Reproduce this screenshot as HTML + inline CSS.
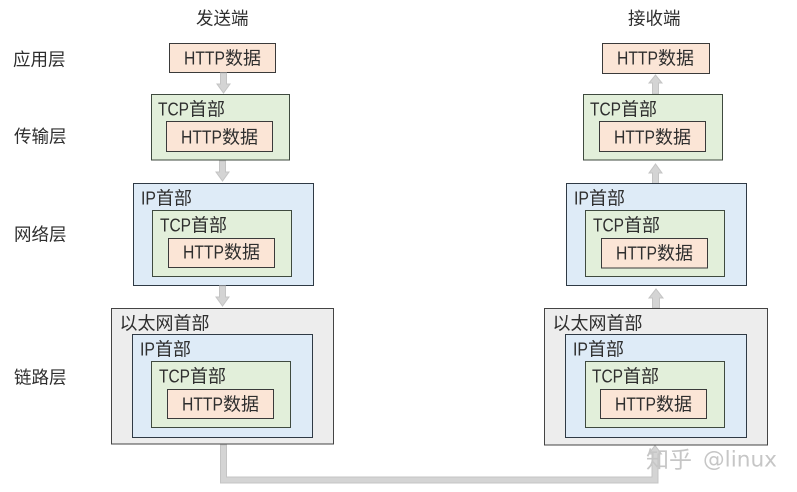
<!DOCTYPE html>
<html><head><meta charset="utf-8">
<style>
html,body{margin:0;padding:0;background:#fff;}
svg{display:block;}
text{font-family:"Liberation Sans","WenQuanYi Zen Hei","Noto Sans CJK SC",sans-serif;font-size:18px;fill:#2e2e2e;transform:translateY(.7px);}
.l{font-size:17.500px;}
.h{fill:#fbe5d6;stroke:#3a3a3a;stroke-width:1;}
.t{fill:#e2efda;stroke:#3f4a3f;stroke-width:1;}
.i{fill:#deebf7;stroke:#2f3a45;stroke-width:1;}
.e{fill:#ededed;stroke:#444;stroke-width:1;}
.a{fill:#d4d4d4;stroke:#c4c4c4;stroke-width:1;}
text.w{fill:#c6c6c6;font-size:23px;}
text.x{fill:#c6c6c6;font-family:"DejaVu Sans",sans-serif;font-size:21px;}
</style></head><body>
<svg width="797" height="492" viewBox="0 0 797 492" xmlns="http://www.w3.org/2000/svg">
<text class="l" x="196" y="24">发送端</text>
<text class="l" x="628" y="24">接收端</text>
<text class="l" x="13" y="65">应用层</text>
<text class="l" x="14" y="142">传输层</text>
<text class="l" x="14" y="240">网络层</text>
<text class="l" x="14" y="383">链路层</text>

<!-- left -->
<rect class="h" x="169.500" y="43.500" width="106" height="29"/>
<text x="184" y="64" textLength="41" lengthAdjust="spacingAndGlyphs">HTTP</text><text x="225" y="64">数据</text>
<path class="a" d="M220.500 73H226.500V84H230L223.500 93L217 84H220.500Z"/>

<rect class="t" x="151.500" y="94.500" width="138" height="65.500"/>
<text x="158" y="115" textLength="31" lengthAdjust="spacingAndGlyphs">TCP</text><text x="189" y="115">首部</text>
<rect class="h" x="166.500" y="121.500" width="106" height="30"/>
<text x="181" y="143" textLength="41" lengthAdjust="spacingAndGlyphs">HTTP</text><text x="222" y="143">数据</text>
<path class="a" d="M219.500 161H225.500V172H229L222.500 181L216 172H219.500Z"/>

<rect class="i" x="133.500" y="183.500" width="180" height="102"/>
<text x="141" y="204" textLength="15" lengthAdjust="spacingAndGlyphs">IP</text><text x="156" y="204">首部</text>
<rect class="t" x="152.500" y="210.500" width="139" height="66"/>
<text x="160" y="231" textLength="31" lengthAdjust="spacingAndGlyphs">TCP</text><text x="191" y="231">首部</text>
<rect class="h" x="168.500" y="238.500" width="106" height="29"/>
<text x="183" y="258" textLength="41" lengthAdjust="spacingAndGlyphs">HTTP</text><text x="224" y="258">数据</text>
<path class="a" d="M219.500 286H225.500V297H229L222.500 306L216 297H219.500Z"/>

<rect class="e" x="111.500" y="308.500" width="222" height="135.500"/>
<text x="119.500" y="329">以太网首部</text>
<rect class="i" x="132.500" y="334.500" width="180" height="103"/>
<text x="140" y="355" textLength="15" lengthAdjust="spacingAndGlyphs">IP</text><text x="155" y="355">首部</text>
<rect class="t" x="151.500" y="361.500" width="139" height="66"/>
<text x="159" y="382" textLength="31" lengthAdjust="spacingAndGlyphs">TCP</text><text x="190" y="382">首部</text>
<rect class="h" x="167.500" y="389.500" width="106" height="29"/>
<text x="182" y="410" textLength="41" lengthAdjust="spacingAndGlyphs">HTTP</text><text x="223" y="410">数据</text>

<!-- bottom connector -->
<path class="a" d="M220.500 445H226.500V477H652V454H648.500L655 445.500L661.500 454H658V483H220.500Z"/>

<!-- right -->
<rect class="h" x="602.500" y="43.500" width="107" height="30"/>
<text x="617" y="64" textLength="41" lengthAdjust="spacingAndGlyphs">HTTP</text><text x="658" y="64">数据</text>
<path class="a" d="M652.500 94V83H649L655.500 75L662 83H658.500V94Z"/>

<rect class="t" x="583.500" y="94.500" width="139" height="65.500"/>
<text x="590" y="115" textLength="31" lengthAdjust="spacingAndGlyphs">TCP</text><text x="621" y="115">首部</text>
<rect class="h" x="599.500" y="121.500" width="106" height="30"/>
<text x="614" y="143" textLength="41" lengthAdjust="spacingAndGlyphs">HTTP</text><text x="655" y="143">数据</text>
<path class="a" d="M652.500 184V173H649L655.500 164L662 173H658.500V184Z"/>

<rect class="i" x="566.500" y="183.500" width="180" height="102"/>
<text x="574" y="204" textLength="15" lengthAdjust="spacingAndGlyphs">IP</text><text x="589" y="204">首部</text>
<rect class="t" x="585.500" y="210.500" width="139" height="66"/>
<text x="593" y="231" textLength="31" lengthAdjust="spacingAndGlyphs">TCP</text><text x="624" y="231">首部</text>
<rect class="h" x="601.500" y="238.500" width="106" height="29.500"/>
<text x="616" y="259" textLength="41" lengthAdjust="spacingAndGlyphs">HTTP</text><text x="657" y="259">数据</text>
<path class="a" d="M652.500 308V298H649L656 289L663 298H659.500V308Z"/>

<rect class="e" x="544.500" y="308.500" width="223" height="136.500"/>
<text x="552.500" y="329">以太网首部</text>
<rect class="i" x="565.500" y="334.500" width="181" height="103"/>
<text x="573" y="355" textLength="15" lengthAdjust="spacingAndGlyphs">IP</text><text x="588" y="355">首部</text>
<rect class="t" x="585.500" y="361.500" width="139" height="66"/>
<text x="592" y="382" textLength="31" lengthAdjust="spacingAndGlyphs">TCP</text><text x="623" y="382">首部</text>
<rect class="h" x="600.500" y="389.500" width="106" height="29"/>
<text x="615" y="410" textLength="41" lengthAdjust="spacingAndGlyphs">HTTP</text><text x="656" y="410">数据</text>

<text class="w" x="646" y="467">知乎</text>
<text class="x" x="703" y="466" textLength="74" lengthAdjust="spacingAndGlyphs">@linux</text>
</svg>
</body></html>
